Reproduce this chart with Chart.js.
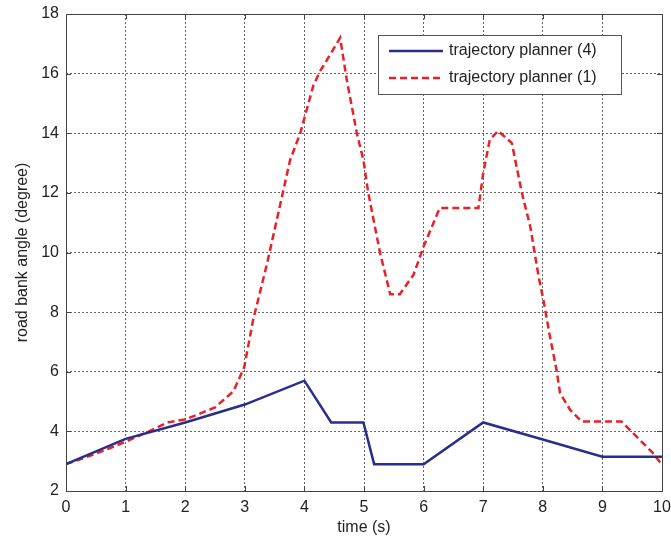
<!DOCTYPE html>
<html>
<head>
<meta charset="utf-8">
<script src="https://cdn.jsdelivr.net/npm/chart.js@4"></script>
<style>
  html, body { margin: 0; padding: 0; background: #fff; }
  #wrap { width: 671px; height: 546px; }
</style>
</head>
<body>
<div id="wrap"><canvas id="myChart" width="671" height="546"></canvas></div>
<script>
// valores
const tBlue = [0, 1, 2, 3, 4, 4.45, 4.99, 5.17, 6, 7, 8, 9, 10];
const yBlue = [2.9, 3.75, 4.3, 4.9, 5.7, 4.3, 4.3, 2.9, 2.9, 4.3, 3.73, 3.15, 3.15];

const tRed = [0, 0.5, 1, 1.5, 1.7, 2, 2.5, 2.81, 2.99, 3.14, 3.37, 3.64, 3.76, 3.93, 4.15, 4.26, 4.48, 4.6,
  4.71, 4.88, 4.99, 5.07, 5.27, 5.44, 5.6, 5.83, 6.0, 6.27, 6.92, 7.0, 7.11, 7.25, 7.48, 7.56, 7.65, 7.79,
  7.93, 8.01, 8.12, 8.23, 8.29, 8.46, 8.65, 9.32, 9.63, 9.85, 10];
const yRed = [2.9, 3.25, 3.65, 4.1, 4.3, 4.4, 4.8, 5.35, 6.15, 7.74, 9.6, 12.02, 13.1, 14.0, 15.6, 16.07, 16.8, 17.2,
  15.8, 14.0, 13.1, 12.02, 9.98, 8.6, 8.6, 9.25, 10.2, 11.49, 11.49, 12.66, 13.78, 14.08, 13.67, 12.88, 11.99, 10.87,
  9.19, 8.41, 7.18, 6.06, 5.28, 4.72, 4.33, 4.33, 3.71, 3.27, 2.87];

const xTicks = [0, 1, 2, 3, 4, 5, 6, 7, 8, 9, 10];
const yTicks = [2, 4, 6, 8, 10, 12, 14, 16, 18];
const seriesNames = ["trajectory planner (4)", "trajectory planner (1)"];

const blue = "#2a2d8c";
const red = "#ea2027";
const font = "Liberation Sans, Arial, sans-serif";

function pts(xs, ys) {
  return xs.map((x, i) => ({ x: x, y: ys[i] }));
}

// caixa do gráfico, marcas internas + legenda no canto superior direito
const boxLegend = {
  id: "boxLegend",
  afterDraw(chart) {
    const c = chart.ctx;
    const a = chart.chartArea;
    const sx = chart.scales.x, sy = chart.scales.y;
    c.save();
    c.strokeStyle = "#444";
    c.lineWidth = 1;
    c.setLineDash([]);
    c.strokeRect(a.left + 0.5, a.top + 0.5, a.right - a.left, a.bottom - a.top);

    // marcas pequenas para dentro (estilo MATLAB)
    c.beginPath();
    xTicks.forEach(v => {
      const px = Math.round(sx.getPixelForValue(v)) + 0.5;
      c.moveTo(px, a.bottom); c.lineTo(px, a.bottom - 5);
      c.moveTo(px, a.top); c.lineTo(px, a.top + 5);
    });
    yTicks.forEach(v => {
      const py = Math.round(sy.getPixelForValue(v)) + 0.5;
      c.moveTo(a.left, py); c.lineTo(a.left + 5, py);
      c.moveTo(a.right, py); c.lineTo(a.right - 5, py);
    });
    c.stroke();

    c.fillStyle = "#fff";
    c.fillRect(378, 35, 243, 59);
    c.strokeStyle = "#555";
    c.strokeRect(378.5, 35.5, 243, 59);

    c.lineWidth = 2.5;
    c.strokeStyle = blue;
    c.beginPath(); c.moveTo(389, 51); c.lineTo(443, 51); c.stroke();
    c.strokeStyle = red;
    c.setLineDash([7, 4]);
    c.beginPath(); c.moveTo(389, 78); c.lineTo(443, 78); c.stroke();
    c.setLineDash([]);

    c.fillStyle = "#222";
    c.font = "16px " + font;
    c.textBaseline = "middle";
    c.textAlign = "left";
    c.fillText(seriesNames[0], 449, 51);
    c.fillText(seriesNames[1], 449, 78);
    c.restore();
  }
};

var ctx = document.getElementById("myChart");
var myChart = new Chart(ctx, {
  type: "scatter",
  data: {
    datasets: [
      {
        label: seriesNames[0],
        data: pts(tBlue, yBlue),
        showLine: true,
        borderColor: blue,
        borderWidth: 2.5,
        pointRadius: 0,
        tension: 0,
      },
      {
        label: seriesNames[1],
        data: pts(tRed, yRed),
        showLine: true,
        borderColor: red,
        borderWidth: 2.5,
        borderDash: [7, 4],
        pointRadius: 0,
        tension: 0,
      },
    ],
  },
  options: {
    responsive: false,
    animation: false,
    layout: { padding: { left: 0, top: 14, right: 9, bottom: 0 } },
    plugins: {
      legend: { display: false },
      tooltip: { enabled: false },
    },
    scales: {
      x: {
        type: "linear",
        min: 0,
        max: 10,
        afterBuildTicks: (s) => { s.ticks = xTicks.map(v => ({ value: v })); },
        afterFit: (s) => { s.height = 55; s.paddingLeft = 0; s.paddingRight = 0; },
        grid: { color: "#666", drawTicks: false, lineWidth: 1 },
        border: { display: false, dash: [2, 2] },
        ticks: { color: "#222", font: { size: 16, family: font }, padding: 7, maxRotation: 0 },
        title: { display: true, text: "time (s)", color: "#222", font: { size: 16, family: font }, padding: { top: 0, bottom: 9 } },
      },
      y: {
        min: 2,
        max: 18,
        afterBuildTicks: (s) => { s.ticks = yTicks.map(v => ({ value: v })); },
        afterFit: (s) => { s.width = 66; s.paddingTop = 0; s.paddingBottom = 0; },
        grid: { color: "#666", drawTicks: false, lineWidth: 1 },
        border: { display: false, dash: [2, 2] },
        ticks: { color: "#222", font: { size: 16, family: font }, padding: 7 },
        title: { display: true, text: "road bank angle (degree)", color: "#222", font: { size: 16, family: font }, padding: { top: 13, bottom: 0 } },
      },
    },
  },
  plugins: [boxLegend],
});
</script>
</body>
</html>
